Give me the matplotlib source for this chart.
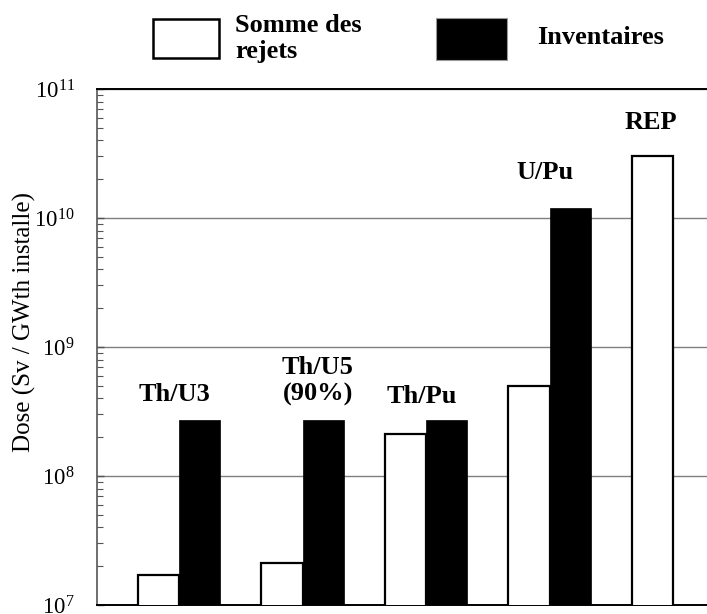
import numpy as np
import matplotlib
matplotlib.use('Agg')
import matplotlib.pyplot as plt
from matplotlib.patches import Rectangle

plt.rcParams['font.family'] = 'Liberation Serif'
plt.rcParams['mathtext.fontset'] = 'custom'
plt.rcParams['mathtext.rm'] = 'Liberation Serif'
plt.rcParams['mathtext.it'] = 'Liberation Serif:italic'
plt.rcParams['mathtext.bf'] = 'Liberation Serif:bold'

# data
groups = ['Th/U3', 'Th/U5\n(90%)', 'Th/Pu', 'U/Pu', 'REP']
rejets = [1.7e7, 2.1e7, 2.1e8, 5.0e8, 3.0e10]
inventaires = [2.7e8, 2.7e8, 2.7e8, 1.2e10, np.nan]

# label placement (offset from group centre, height)
label_dx = [-0.04, 0.125, -0.032, -0.037, -0.18]
label_y = [4.25e8, 5.45e8, 4.1e8, 2.27e10, 5.5e10]

fig = plt.figure(figsize=(7.07, 6.14), dpi=100)
ax = fig.add_axes([97/707, 1 - 605/614, 1 - 97/707, (605 - 89)/614])

x = np.arange(len(groups))
w = 1/3
ax.bar(x - w/2, rejets, width=w, color='white', edgecolor='black', linewidth=1.6, zorder=3)
ax.bar(x + w/2, inventaires, width=w, color='black', edgecolor='black', linewidth=0.5, zorder=3)

ax.set_yscale('log')
ax.set_ylim(1e7, 1e11)
ax.set_xlim(-0.664, 4.275)
ax.set_xticks([])

ax.yaxis.grid(True, which='major', color='#7f7f7f', linewidth=1.0, zorder=0)
ax.set_axisbelow(True)
ax.tick_params(axis='y', which='both', direction='in', labelsize=16.5, pad=16)
ax.tick_params(axis='y', which='major', length=5, width=1, color='#555555')
ax.tick_params(axis='y', which='minor', length=4, width=0.8, color='#555555')

ax.spines['right'].set_visible(False)
ax.spines['left'].set_color('#555555')
ax.spines['left'].set_linewidth(1.2)
ax.spines['top'].set_linewidth(1.4)
ax.spines['bottom'].set_linewidth(1.4)

ax.set_ylabel('Dose (Sv / GWth installe)', fontsize=18)
ax.yaxis.set_label_coords(-0.1, 0.548)

for i in range(len(groups)):
    ax.text(x[i] + label_dx[i], label_y[i], groups[i], ha='center', va='center',
            fontsize=19, fontweight='bold', linespacing=1.2, zorder=4)

# legend
fig.add_artist(Rectangle((153/707, 1 - 58/614), 66/707, 39/614, transform=fig.transFigure,
                         facecolor='white', edgecolor='black', linewidth=1.8))
fig.text(235/707, 1 - 38.5/614, 'Somme des\nrejets', ha='left', va='center',
         fontsize=19, fontweight='bold', linespacing=1.15)
fig.add_artist(Rectangle((436/707, 1 - 60/614), 71/707, 42/614, transform=fig.transFigure,
                         facecolor='black', edgecolor='#999999', linewidth=0.8))
fig.text(537/707, 1 - 37/614, 'Inventaires', ha='left', va='center',
         fontsize=19, fontweight='bold')

plt.savefig('out.png', dpi=100)
